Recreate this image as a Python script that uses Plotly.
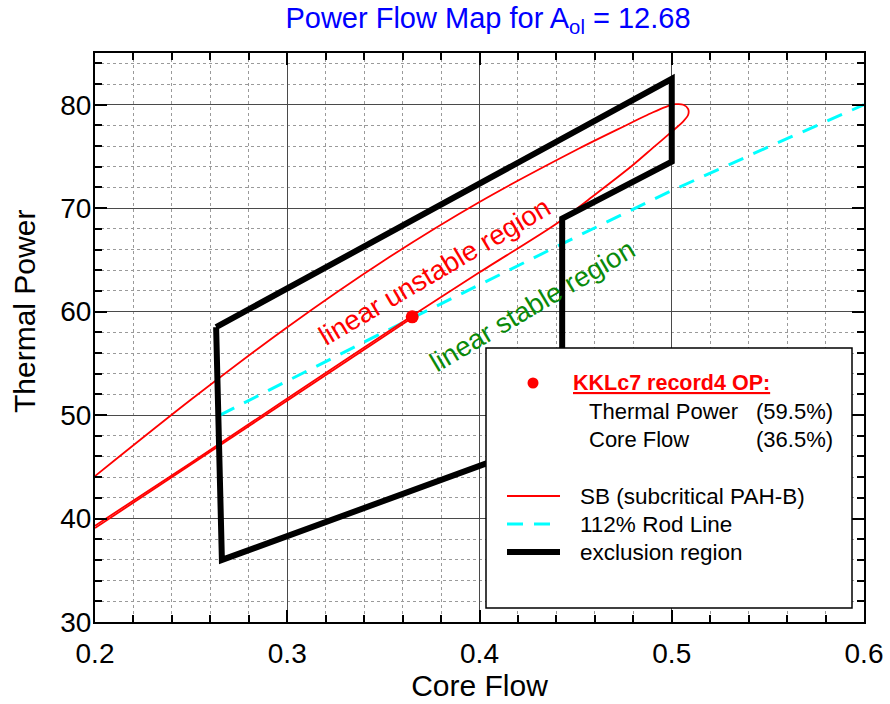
import plotly.graph_objects as go

# ---------------- data ----------------
sb_flow = [0.2, 0.25, 0.3, 0.35, 0.4, 0.45, 0.475, 0.49, 0.497, 0.502, 0.506, 0.5085,
           0.5085, 0.506, 0.5, 0.49, 0.48, 0.46, 0.44, 0.4, 0.365, 0.3, 0.25, 0.2]
sb_power = [44.1, 51.5, 58.5, 64.9, 70.6, 75.6, 77.9, 79.25, 79.8, 80.05, 80.0, 79.6,
            79.0, 78.4, 77.4, 75.8, 74.2, 71.3, 68.5, 63.8, 59.6, 51.6, 45.4, 39.3]
sb2_flow = [0.2, 0.3, 0.365]
sb2_power = [39.08, 51.38, 59.4]

rod_flow = [0.265, 0.3, 0.35, 0.4, 0.45, 0.5, 0.55, 0.6]
rod_power = [50.0, 53.3, 58.0, 62.6, 67.2, 71.7, 75.9, 80.0]

ex_flow = [0.263, 0.5, 0.5, 0.443, 0.443, 0.266, 0.263]
ex_power = [58.5, 82.5, 74.5, 69.0, 48.0, 36.0, 58.5]

op_flow = [0.365]
op_power = [59.5]

x_ticks = [0.2, 0.3, 0.4, 0.5, 0.6]
y_ticks = [30, 40, 50, 60, 70, 80]

FONT = "Liberation Sans, Arial, sans-serif"

fig = go.Figure()
fig.add_trace(go.Scatter(x=rod_flow, y=rod_power, mode="lines",
                         line=dict(color="#00ffff", width=3, dash="16px,11px"),
                         showlegend=False))
fig.add_trace(go.Scatter(x=sb_flow, y=sb_power, mode="lines",
                         line=dict(color="#ff0000", width=1.8, shape="spline", smoothing=0.8),
                         showlegend=False))
fig.add_trace(go.Scatter(x=sb2_flow, y=sb2_power, mode="lines",
                         line=dict(color="#ff0000", width=1.8),
                         showlegend=False))
fig.add_trace(go.Scatter(x=ex_flow, y=ex_power, mode="lines",
                         line=dict(color="black", width=6),
                         showlegend=False))
fig.add_trace(go.Scatter(x=op_flow, y=op_power, mode="markers",
                         marker=dict(color="#ff0000", size=13),
                         showlegend=False))

# region labels
fig.add_annotation(x=0.3765, y=63.9, xref="x", yref="y", text="linear unstable region",
                   showarrow=False, textangle=-30.5,
                   font=dict(family=FONT, size=27.5, color="#ff0000"))
fig.add_annotation(x=0.4275, y=60.6, xref="x", yref="y", text="linear stable region",
                   showarrow=False, textangle=-30.5,
                   font=dict(family=FONT, size=27.5, color="#0a8a0a"))

# ---- legend box (drawn manually) ----
def px(xp):
    return (xp - 95) / 769.0

def py(yp):
    return (622 - yp) / 569.0

shapes = []
shapes.append(dict(type="rect", xref="paper", yref="paper",
                   x0=px(486), x1=px(852), y0=py(608), y1=py(348),
                   fillcolor="white", line=dict(color="black", width=1.5), layer="above"))
shapes.append(dict(type="circle", xref="paper", yref="paper", xsizemode="pixel", ysizemode="pixel",
                   xanchor=px(533), yanchor=py(383), x0=-5.5, x1=5.5, y0=-5.5, y1=5.5,
                   fillcolor="#ff0000", line=dict(color="#ff0000", width=0), layer="above"))
shapes.append(dict(type="line", xref="paper", yref="paper",
                   x0=px(507), x1=px(560), y0=py(496), y1=py(496),
                   line=dict(color="#ff0000", width=1.8), layer="above"))
shapes.append(dict(type="line", xref="paper", yref="paper",
                   x0=px(507), x1=px(560), y0=py(524), y1=py(524),
                   line=dict(color="#00ffff", width=3, dash="16px,11px"), layer="above"))
shapes.append(dict(type="line", xref="paper", yref="paper",
                   x0=px(507), x1=px(560), y0=py(552), y1=py(552),
                   line=dict(color="black", width=6), layer="above"))
fig.update_layout(shapes=shapes)

def legtext(x, y, text, color="black", anchor="left", size=22):
    fig.add_annotation(x=px(x), y=py(y), xref="paper", yref="paper", text=text,
                       showarrow=False, xanchor=anchor, yanchor="middle",
                       font=dict(family=FONT, size=size, color=color))

legtext(571, 383, "<b><u>KKLc7 record4 OP:</u></b>", color="#ff0000", size=21.5)
legtext(587, 411, "Thermal Power")
legtext(835, 411, "(59.5%)", anchor="right")
legtext(587, 439, "Core Flow")
legtext(835, 439, "(36.5%)", anchor="right")
legtext(578, 496, "SB (subcritical PAH-B)", size=22.5)
legtext(578, 524, "112% Rod Line", size=22.5)
legtext(578, 552, "exclusion region", size=22.5)

# y-axis title (placed as in the reference, slightly above plot centre)
fig.add_annotation(x=px(24), y=py(312), xref="paper", yref="paper", text="Thermal Power",
                   showarrow=False, textangle=-90, xanchor="center", yanchor="middle",
                   font=dict(family=FONT, size=30, color="black"))

axis_common = dict(
    showline=True, linecolor="black", linewidth=2, mirror="ticks",
    ticks="inside", ticklen=12, tickwidth=2, tickcolor="black",
    showgrid=True, gridcolor="#4a4a4a", gridwidth=1,
    zeroline=False, automargin=False,
    tickfont=dict(family=FONT, size=28, color="black"),
)

fig.update_xaxes(range=[0.2, 0.6], tickvals=x_ticks, ticktext=[str(v) for v in x_ticks],
                 minor=dict(dtick=0.02, tick0=0.2, ticks="inside", ticklen=7, tickwidth=1.5,
                            tickcolor="black", showgrid=True, gridcolor="#9a9a9a",
                            griddash="dot", gridwidth=1),
                 title=dict(text="Core Flow", font=dict(family=FONT, size=30, color="black"),
                            standoff=6),
                 ticklabelstandoff=5,
                 **axis_common)
fig.update_yaxes(range=[30, 85], tickvals=y_ticks,
                 minor=dict(dtick=2, tick0=30, ticks="inside", ticklen=7, tickwidth=1.5,
                            tickcolor="black", showgrid=True, gridcolor="#9a9a9a",
                            griddash="dot", gridwidth=1),
                 ticklabelstandoff=-4,
                 **axis_common)

fig.update_layout(
    width=890, height=704,
    margin=dict(l=95, r=26, t=53, b=82),
    paper_bgcolor="white", plot_bgcolor="white",
    title=dict(text="Power Flow Map for A<sub>ol</sub> = 12.68", x=(488 - 95) / 769, xref="paper",
               xanchor="center", y=1 - 18 / 704, yanchor="middle", yref="container",
               font=dict(family=FONT, size=29, color="#0000ff")),
    showlegend=False,
)

fig.write_html("out.html")
